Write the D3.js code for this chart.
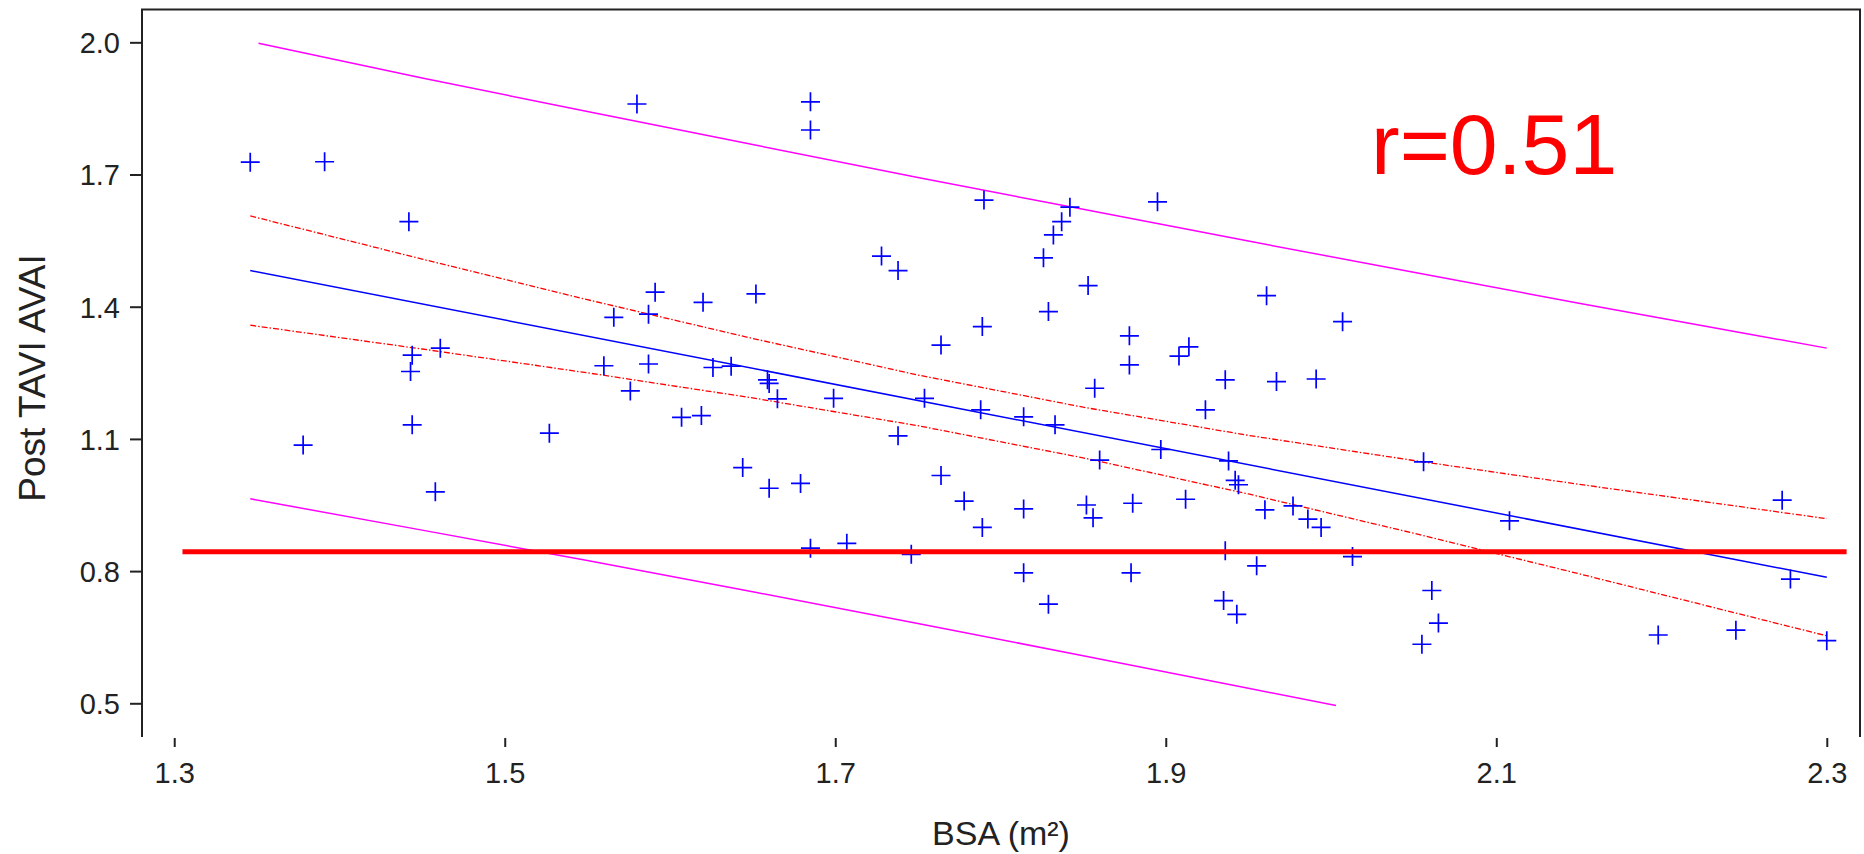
<!DOCTYPE html>
<html>
<head>
<meta charset="utf-8">
<script src="https://cdn.jsdelivr.net/npm/d3@7"></script>
<style>
  body { margin: 0; background: #fff; }
  svg { display: block; font-family: "Liberation Sans", Arial, sans-serif; }
</style>
</head>
<body>
<svg></svg>
<script>
var width = 1864;
var height = 854;

// Patient data: BSA (m2) against post TAVI AVAI
var bsa = [1.346, 1.391, 1.442, 1.444, 1.461, 1.443, 1.444, 1.378, 1.458, 1.580,
           1.685, 1.685, 1.728, 1.738, 1.790, 1.789, 1.591, 1.566, 1.587, 1.620,
           1.652, 1.764, 1.560, 1.587, 1.576, 1.626, 1.637, 1.659, 1.660, 1.665,
           1.699, 1.754, 1.607, 1.619, 1.527, 1.738, 1.644, 1.660, 1.679, 1.685,
           1.707, 1.746, 1.764, 1.778, 1.789, 1.842, 1.837, 1.832, 1.826, 1.895,
           1.853, 1.829, 1.878, 1.878, 1.914, 1.908, 1.857, 1.936, 1.967, 1.991,
           1.961, 2.007, 1.924, 1.788, 1.814, 1.833, 1.897, 1.860, 1.938, 1.942,
           1.944, 2.056, 1.814, 1.852, 1.856, 1.880, 1.912, 1.960, 1.977, 1.986,
           1.994, 1.936, 2.013, 1.814, 1.879, 1.955, 1.829, 1.935, 1.943, 2.061,
           2.065, 2.055, 2.108, 2.198, 2.245, 2.273, 2.278, 2.300];
var avai = [1.728, 1.729, 1.593, 1.290, 1.306, 1.253, 1.132, 1.086, 0.980, 1.860,
            1.865, 1.801, 1.515, 1.482, 1.642, 1.355, 1.433, 1.376, 1.383, 1.410,
            1.429, 1.313, 1.266, 1.270, 1.209, 1.262, 1.265, 1.234, 1.226, 1.191,
            1.192, 1.192, 1.149, 1.153, 1.113, 1.107, 1.035, 0.988, 0.999, 0.852,
            0.863, 0.838, 1.017, 0.959, 0.899, 1.626, 1.593, 1.563, 1.511, 1.638,
            1.448, 1.389, 1.334, 1.268, 1.309, 1.288, 1.215, 1.234, 1.230, 1.236,
            1.425, 1.366, 1.166, 1.166, 1.150, 1.132, 1.076, 1.052, 1.050, 1.006,
            0.996, 1.048, 0.941, 0.950, 0.921, 0.954, 0.963, 0.939, 0.948, 0.918,
            0.899, 0.846, 0.833, 0.796, 0.796, 0.812, 0.725, 0.733, 0.702, 0.756,
            0.682, 0.634, 0.914, 0.655, 0.666, 0.961, 0.782, 0.642];

// Regression line
var fitX = [1.346, 2.300];
var fitY = [1.482, 0.786];

// 95% confidence band (red dotted)
var bandX = [1.346, 1.45, 1.55, 1.65, 1.75, 1.85, 1.95, 2.05, 2.15, 2.25, 2.30];
var ciUpper = [1.606, 1.508, 1.416, 1.328, 1.245, 1.172, 1.108, 1.051, 0.997, 0.945, 0.919];
var ciLower = [1.358, 1.304, 1.250, 1.193, 1.130, 1.057, 0.975, 0.886, 0.794, 0.700, 0.653];

// 95% prediction band (magenta)
var piUpperX = [1.351, 1.45, 1.55, 1.65, 1.75, 1.85, 1.95, 2.05, 2.15, 2.25, 2.30];
var piUpper = [1.998, 1.919, 1.843, 1.768, 1.693, 1.621, 1.549, 1.478, 1.408, 1.340, 1.306];
var piLowerX = [1.346, 1.45, 1.55, 1.65, 1.75, 1.85, 1.95, 2.003];
var piLower = [0.964, 0.893, 0.824, 0.753, 0.681, 0.608, 0.534, 0.495];

// Cut-off line
var cutoffX = [1.305, 2.312];
var cutoffY = 0.844;

var xTicks = [1.3, 1.5, 1.7, 1.9, 2.1, 2.3];
var yTicks = [0.5, 0.8, 1.1, 1.4, 1.7, 2.0];
var rLabel = "r=0.51";

var svg = d3.select("svg")
            .attr("width", width)
            .attr("height", height);

var xScale = d3.scaleLinear()
            .domain([1.2805, 2.3201])
            .range([142, 1860]);

var yScale = d3.scaleLinear()
            .domain([0.4235, 2.0745])
            .range([737, 9.5]);

// Frame: left axis, top and right border (no bottom line)
svg.append("path")
    .attr("d", `M${xScale.range()[0]},${yScale.range()[0]}V${yScale.range()[1]}H${xScale.range()[1]}V${yScale.range()[0]}`)
    .attr("fill", "none")
    .attr("stroke", "#222")
    .attr("stroke-width", 2);

// Y axis
var yAxis = d3.axisLeft(yScale)
            .tickValues(yTicks)
            .tickFormat(d3.format(".1f"))
            .tickSize(12)
            .tickSizeOuter(0)
            .tickPadding(10);

var gy = svg.append("g")
            .attr("transform", `translate(${xScale.range()[0]},0)`)
            .call(yAxis);
gy.select(".domain").remove();
gy.selectAll("line").attr("stroke", "#222").attr("stroke-width", 2);
gy.selectAll("text")
    .attr("dy", "0.355em")
    .style("font-size", "29px")
    .attr("fill", "#222");

// X axis: ticks sit just under the frame
var xAxis = d3.axisBottom(xScale)
            .tickValues(xTicks)
            .tickFormat(d3.format(".1f"))
            .tickSize(9)
            .tickSizeOuter(0)
            .tickPadding(15);

var gx = svg.append("g")
            .attr("transform", `translate(0,${yScale.range()[0] + 1})`)
            .call(xAxis);
gx.select(".domain").remove();
gx.selectAll("line").attr("stroke", "#222").attr("stroke-width", 2);
gx.selectAll("text")
    .style("font-size", "29px")
    .attr("fill", "#222");

var line = d3.line()
            .x(d => xScale(d[0]))
            .y(d => yScale(d[1]));

// Prediction band
svg.append("path")
    .datum(d3.zip(piUpperX, piUpper))
    .attr("d", line)
    .attr("fill", "none")
    .attr("stroke", "#ff00ff")
    .attr("stroke-width", 1.5);

svg.append("path")
    .datum(d3.zip(piLowerX, piLower))
    .attr("d", line)
    .attr("fill", "none")
    .attr("stroke", "#ff00ff")
    .attr("stroke-width", 1.5);

// Confidence band
[ciUpper, ciLower].forEach(function(band) {
    svg.append("path")
        .datum(d3.zip(bandX, band))
        .attr("d", line)
        .attr("fill", "none")
        .attr("stroke", "#ff0000")
        .attr("stroke-width", 1.3)
        .attr("stroke-dasharray", "6,2,1.5,2");
});

// Regression line
svg.append("path")
    .datum(d3.zip(fitX, fitY))
    .attr("d", line)
    .attr("fill", "none")
    .attr("stroke", "#0000ff")
    .attr("stroke-width", 1.5);

// Crosses for each patient
var half = 9.5;
svg.append("g")
    .selectAll("path")
    .data(d3.zip(bsa, avai))
    .enter()
    .append("path")
        .attr("d", d => {
            var cx = xScale(d[0]), cy = yScale(d[1]);
            return `M${cx - half},${cy}H${cx + half}M${cx},${cy - half}V${cy + half}`;
        })
        .attr("stroke", "#0000ff")
        .attr("stroke-width", 1.7)
        .attr("fill", "none");

// Cut-off line
svg.append("line")
    .attr("x1", xScale(cutoffX[0]))
    .attr("x2", xScale(cutoffX[1]))
    .attr("y1", yScale(cutoffY))
    .attr("y2", yScale(cutoffY))
    .attr("stroke", "#ff0000")
    .attr("stroke-width", 5);

// Correlation label
svg.append("text")
    .attr("x", 1371)
    .attr("y", 174)
    .style("font-size", "86px")
    .attr("fill", "#ff0000")
    .text(rLabel);

// Axis titles
svg.append("text")
    .attr("x", 1001)
    .attr("y", 845)
    .style("text-anchor", "middle")
    .style("font-size", "34px")
    .attr("fill", "#222")
    .text("BSA (m\u00B2)");

svg.append("text")
    .attr("transform", "rotate(-90)")
    .attr("x", -378)
    .attr("y", 45)
    .style("text-anchor", "middle")
    .style("font-size", "37px")
    .attr("fill", "#222")
    .text("Post TAVI AVAI");
</script>
</body>
</html>
